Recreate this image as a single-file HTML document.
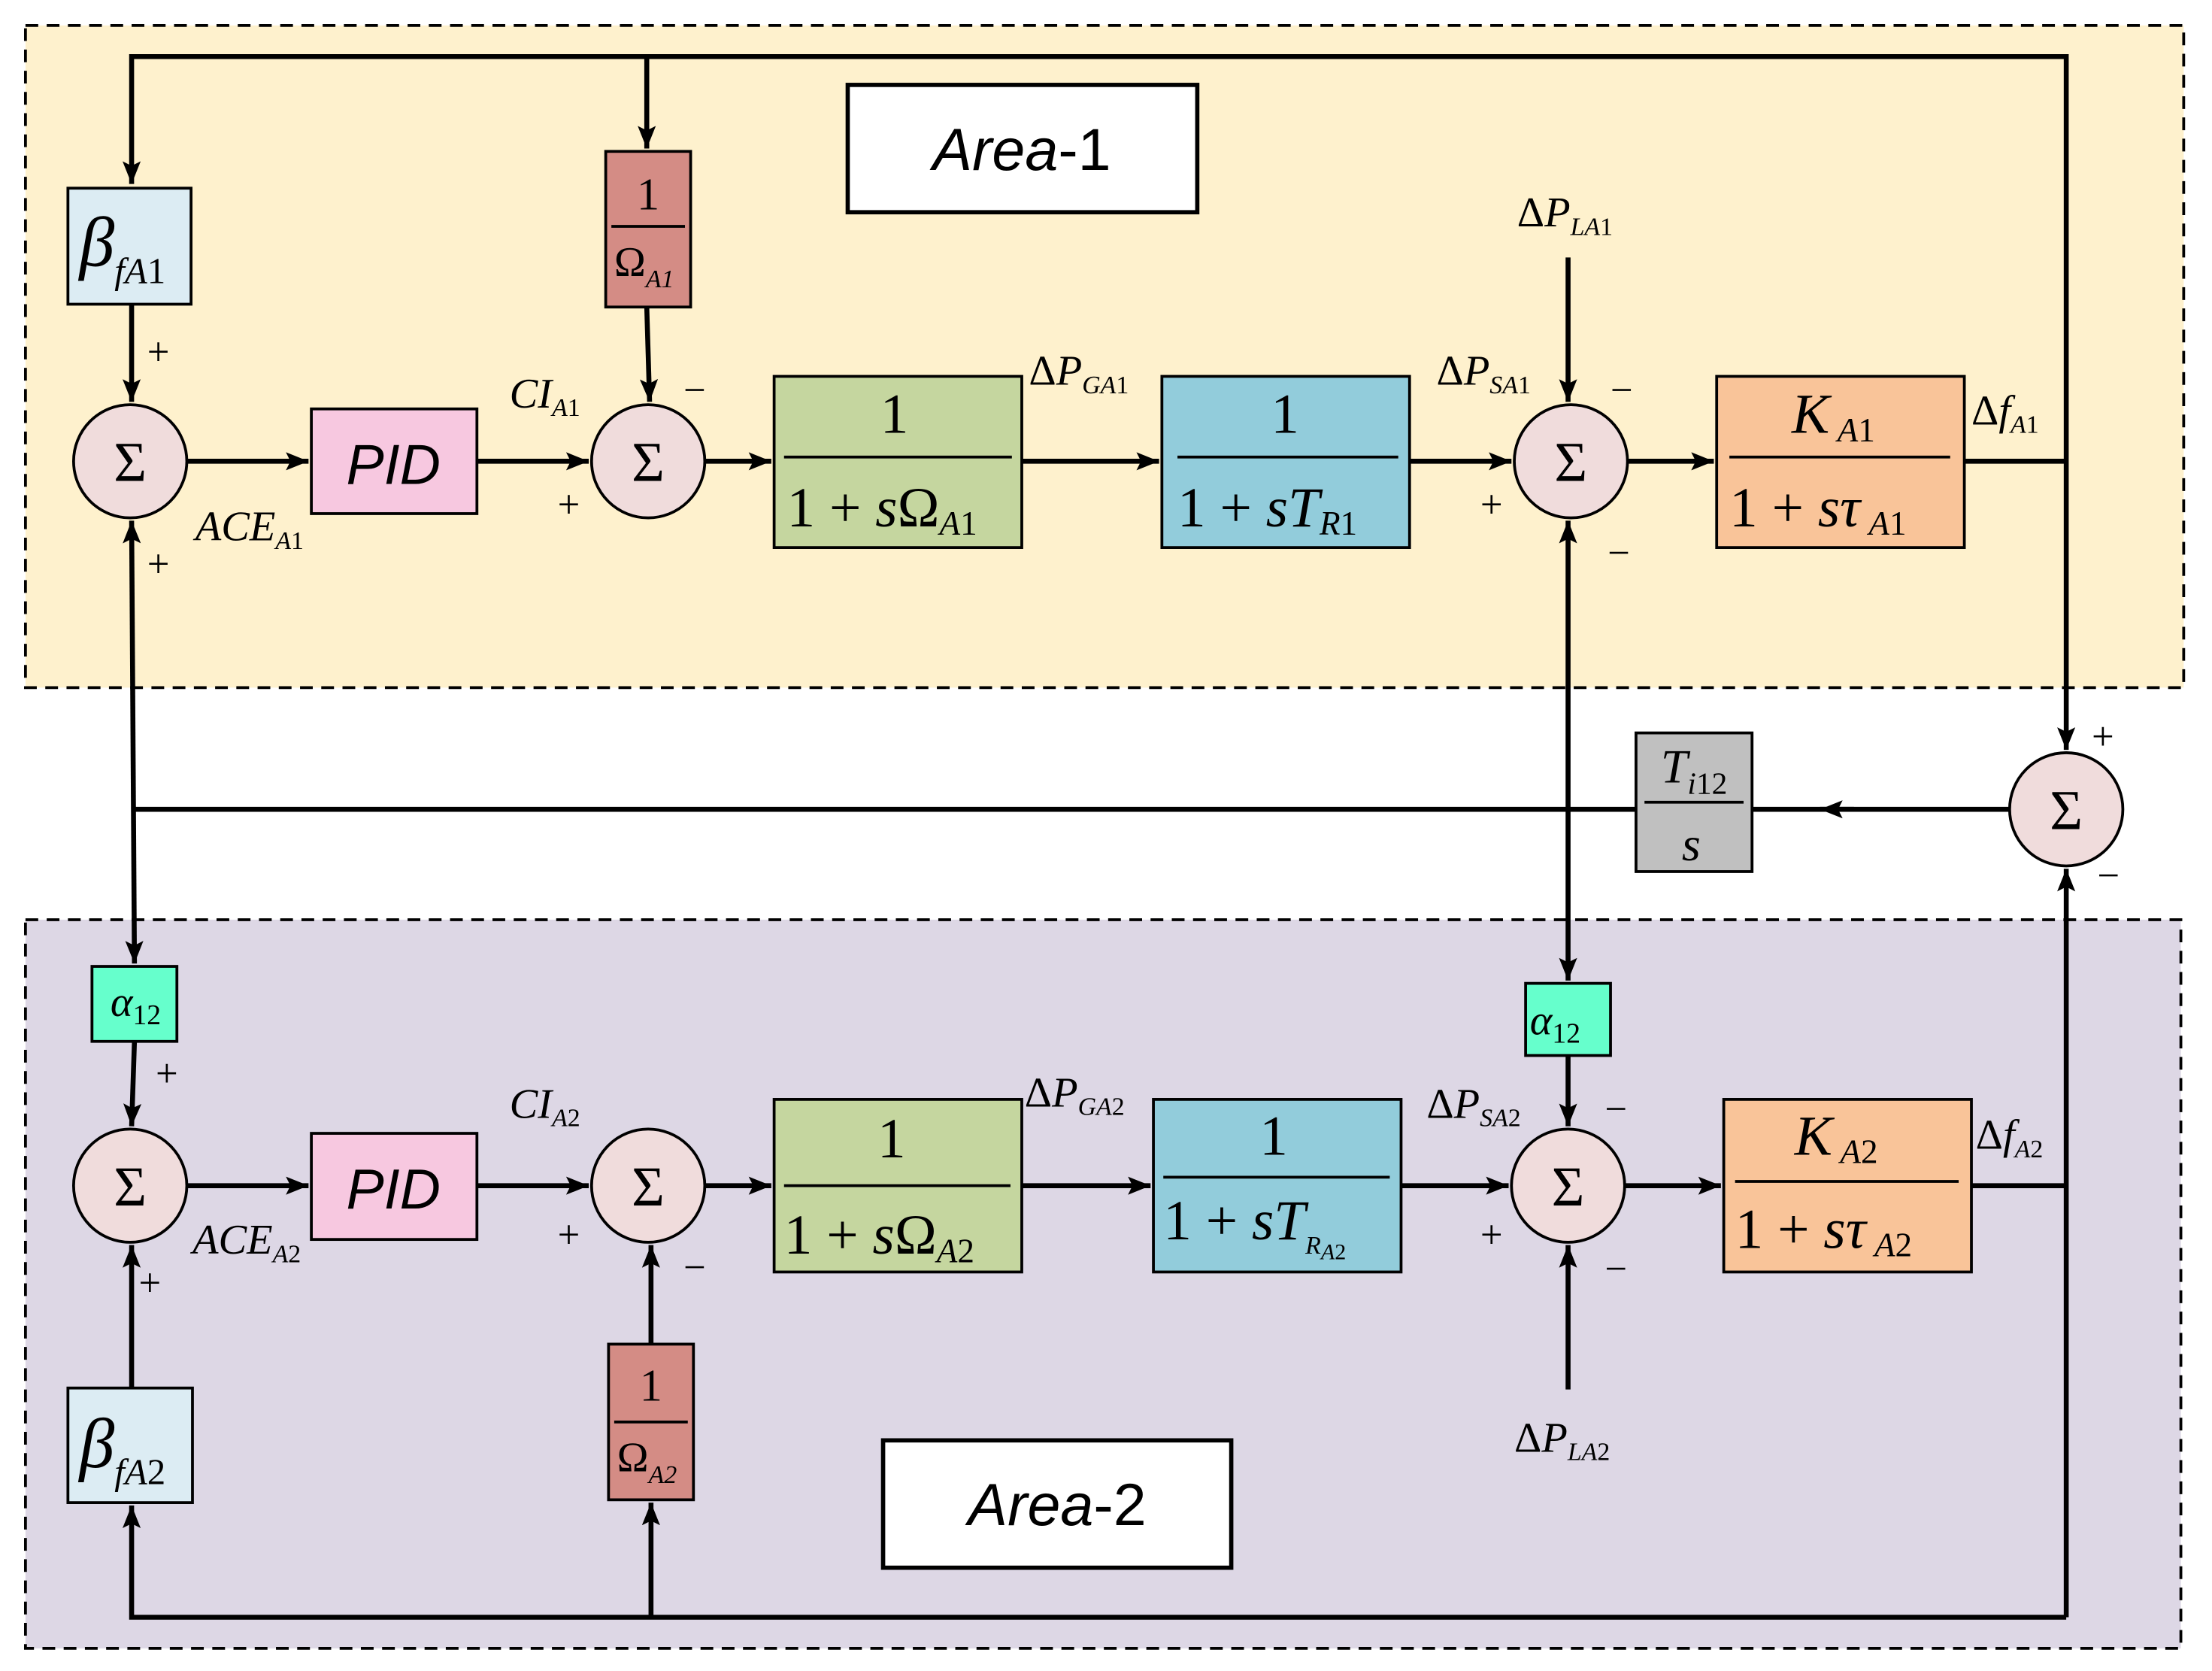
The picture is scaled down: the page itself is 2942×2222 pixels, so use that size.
<!DOCTYPE html>
<html><head><meta charset="utf-8"><style>
html,body{margin:0;padding:0;background:#fff}
svg{display:block}
text{font-family:"Liberation Serif",serif}
.s{font-family:"Liberation Sans",sans-serif}
</style></head><body>
<svg width="2942" height="2222" viewBox="0 0 1563 1181" preserveAspectRatio="none" xmlns="http://www.w3.org/2000/svg">
<defs>
<marker id="a" viewBox="0 0 10 10" refX="10" refY="5" markerWidth="7" markerHeight="7" orient="auto-start-reverse" markerUnits="userSpaceOnUse">
<path d="M0,0 L10,5 L0,10 L3,5 z" fill="#000"/></marker>
<marker id="b" viewBox="0 0 10 10" refX="10" refY="5" markerWidth="16" markerHeight="16" orient="auto-start-reverse" markerUnits="userSpaceOnUse">
<path d="M0,1 L10,5 L0,9 L2,5 z" fill="#000"/></marker>
</defs>
<rect x="18" y="18" width="1525" height="468" fill="#fef1cd" stroke="#000" stroke-width="2" stroke-dasharray="9,6"/>
<rect x="18" y="650" width="1523" height="515" fill="#ddd7e5" stroke="#000" stroke-width="2" stroke-dasharray="9,6"/>
<rect x="599" y="60" width="247" height="90" fill="#fff" stroke="#000" stroke-width="3"/>
<text x="722" y="120" class="s" font-size="42" text-anchor="middle"><tspan font-style="italic">Area</tspan>-1</text>
<rect x="624" y="1018" width="246" height="90" fill="#fff" stroke="#000" stroke-width="3"/>
<text x="747" y="1078" class="s" font-size="42" text-anchor="middle"><tspan font-style="italic">Area</tspan>-2</text>

<g stroke="#000" stroke-width="3.5" fill="none">
<!-- top feedback -->
<polyline points="93,130 93,40 1460,40 1460,530" marker-start="url(#b)" marker-end="url(#b)"/>
<line x1="457" y1="40" x2="457" y2="105" marker-end="url(#b)"/>
<line x1="457" y1="217" x2="459" y2="284" marker-end="url(#b)"/>
<line x1="93" y1="215" x2="93" y2="284" marker-end="url(#b)"/>
<line x1="132" y1="326" x2="218" y2="326" marker-end="url(#b)"/>
<line x1="337" y1="326" x2="416" y2="326" marker-end="url(#b)"/>
<line x1="498" y1="326" x2="545" y2="326" marker-end="url(#b)"/>
<line x1="722" y1="326" x2="819" y2="326" marker-end="url(#b)"/>
<line x1="996" y1="326" x2="1068" y2="326" marker-end="url(#b)"/>
<line x1="1150" y1="326" x2="1211" y2="326" marker-end="url(#b)"/>
<line x1="1388" y1="326" x2="1460" y2="326"/>
<line x1="1108" y1="182" x2="1108" y2="284" marker-end="url(#b)"/>
<line x1="1108" y1="368" x2="1108" y2="693" marker-start="url(#b)" marker-end="url(#b)"/>
<line x1="93" y1="368" x2="95" y2="681" marker-start="url(#b)" marker-end="url(#b)"/>
<line x1="93" y1="572" x2="1156" y2="572"/>
<line x1="1420" y1="572" x2="1238" y2="572"/>
<line x1="1310" y1="572" x2="1286" y2="572" marker-end="url(#b)"/>
<!-- area 2 -->
<line x1="95" y1="736" x2="93" y2="796" marker-end="url(#b)"/>
<line x1="132" y1="838" x2="218" y2="838" marker-end="url(#b)"/>
<line x1="337" y1="838" x2="416" y2="838" marker-end="url(#b)"/>
<line x1="498" y1="838" x2="545" y2="838" marker-end="url(#b)"/>
<line x1="722" y1="838" x2="813" y2="838" marker-end="url(#b)"/>
<line x1="990" y1="838" x2="1066" y2="838" marker-end="url(#b)"/>
<line x1="1148" y1="838" x2="1216" y2="838" marker-end="url(#b)"/>
<polyline points="1393,838 1460,838"/>
<line x1="1108" y1="746" x2="1108" y2="796" marker-end="url(#b)"/>
<line x1="1108" y1="982" x2="1108" y2="880" marker-end="url(#b)"/>
<polyline points="1460,1143 1460,614" marker-end="url(#b)"/>
<polyline points="93,1064 93,1143 1460,1143" marker-start="url(#b)"/>
<line x1="460" y1="1143" x2="460" y2="1062" marker-end="url(#b)"/>
<line x1="93" y1="981" x2="93" y2="880" marker-end="url(#b)"/>
<line x1="460" y1="950" x2="460" y2="880" marker-end="url(#b)"/>
</g>

<!-- sums -->
<g fill="#f0dcdc" stroke="#000" stroke-width="2">
<circle cx="92" cy="326" r="40"/><circle cx="458" cy="326" r="40"/><circle cx="1110" cy="326" r="40"/>
<circle cx="1460" cy="572" r="40"/>
<circle cx="92" cy="838" r="40"/><circle cx="458" cy="838" r="40"/><circle cx="1108" cy="838" r="40"/>
</g>
<g font-size="40" text-anchor="middle">
<text x="92" y="340">Σ</text><text x="458" y="340">Σ</text><text x="1110" y="340">Σ</text>
<text x="1460" y="586">Σ</text>
<text x="92" y="852">Σ</text><text x="458" y="852">Σ</text><text x="1108" y="852">Σ</text>
</g>

<!-- boxes -->
<g stroke="#000" stroke-width="2">
<rect x="48" y="133" width="87" height="82" fill="#dcecf3"/>
<rect x="428" y="107" width="60" height="110" fill="#d48c85"/>
<rect x="220" y="289" width="117" height="74" fill="#f7c8e0"/>
<rect x="547" y="266" width="175" height="121" fill="#c5d69f"/>
<rect x="821" y="266" width="175" height="121" fill="#92ccdb"/>
<rect x="1213" y="266" width="175" height="121" fill="#f9c499"/>
<rect x="1156" y="518" width="82" height="98" fill="#c0c0c0"/>
<rect x="65" y="683" width="60" height="53" fill="#66ffcc"/>
<rect x="1078" y="695" width="60" height="51" fill="#66ffcc"/>
<rect x="220" y="801" width="117" height="75" fill="#f7c8e0"/>
<rect x="547" y="777" width="175" height="122" fill="#c5d69f"/>
<rect x="815" y="777" width="175" height="122" fill="#92ccdb"/>
<rect x="1218" y="777" width="175" height="122" fill="#f9c499"/>
<rect x="48" y="981" width="88" height="81" fill="#dcecf3"/>
<rect x="430" y="950" width="60" height="110" fill="#d48c85"/>
</g>
<g stroke="#000" stroke-width="2">
<line x1="432" y1="160" x2="484" y2="160"/>
<line x1="554" y1="323" x2="715" y2="323"/>
<line x1="832" y1="323" x2="988" y2="323"/>
<line x1="1222" y1="323" x2="1378" y2="323"/>
<line x1="1162" y1="567" x2="1232" y2="567"/>
<line x1="554" y1="838" x2="714" y2="838"/>
<line x1="822" y1="832" x2="982" y2="832"/>
<line x1="1226" y1="835" x2="1384" y2="835"/>
<line x1="434" y1="1005" x2="486" y2="1005"/>
</g>

<!-- texts -->
<g font-size="38">
<text x="56" y="188" font-size="50" font-style="italic">β<tspan font-size="26" dy="12">fA</tspan><tspan font-size="26" font-style="normal">1</tspan></text>
<text x="56" y="1037" font-size="50" font-style="italic">β<tspan font-size="26" dy="12">fA</tspan><tspan font-size="26" font-style="normal">2</tspan></text>
<text x="458" y="148" text-anchor="middle" font-size="32">1</text>
<text x="434" y="195" font-size="30">Ω<tspan font-size="18" font-style="italic" dy="8">A1</tspan></text>
<text x="460" y="990" text-anchor="middle" font-size="32">1</text>
<text x="436" y="1040" font-size="30">Ω<tspan font-size="18" font-style="italic" dy="8">A2</tspan></text>
<text x="278" y="342" text-anchor="middle" class="s" font-style="italic" font-size="40">PID</text>
<text x="278" y="854" text-anchor="middle" class="s" font-style="italic" font-size="40">PID</text>
<text x="632" y="306" text-anchor="middle" font-size="40">1</text>
<text x="556" y="372" font-size="40">1 + <tspan font-style="italic">s</tspan>Ω<tspan font-size="24" font-style="italic" dy="6">A</tspan><tspan font-size="24">1</tspan></text>
<text x="908" y="306" text-anchor="middle" font-size="40">1</text>
<text x="832" y="372" font-size="40">1 + <tspan font-style="italic">sT</tspan><tspan font-size="24" font-style="italic" dy="6">R</tspan><tspan font-size="24">1</tspan></text>
<text x="1266" y="306" font-size="40" font-style="italic">K<tspan font-size="24" dy="6"> A</tspan><tspan font-size="24" font-style="normal">1</tspan></text>
<text x="1222" y="372" font-size="40">1 + <tspan font-style="italic">sτ</tspan><tspan font-size="24" font-style="italic" dy="6"> A</tspan><tspan font-size="24">1</tspan></text>
<text x="1197" y="553" text-anchor="middle" font-size="34" font-style="italic">T<tspan font-size="22" dy="8">i</tspan><tspan font-size="22" font-style="normal">12</tspan></text>
<text x="1195" y="608" text-anchor="middle" font-size="34" font-style="italic">s</text>
<text x="78" y="718" font-size="30" font-style="italic">α<tspan font-size="20" font-style="normal" dy="6">12</tspan></text>
<text x="1081" y="731" font-size="30" font-style="italic">α<tspan font-size="20" font-style="normal" dy="6">12</tspan></text>
<text x="630" y="818" text-anchor="middle" font-size="40">1</text>
<text x="554" y="886" font-size="40">1 + <tspan font-style="italic">s</tspan>Ω<tspan font-size="24" font-style="italic" dy="6">A</tspan><tspan font-size="24">2</tspan></text>
<text x="900" y="816" text-anchor="middle" font-size="40">1</text>
<text x="822" y="876" font-size="40">1 + <tspan font-style="italic">sT</tspan><tspan font-size="18" font-style="italic" dy="10">R</tspan><tspan font-size="16" font-style="italic" dy="4">A</tspan><tspan font-size="16">2</tspan></text>
<text x="1268" y="816" font-size="40" font-style="italic">K<tspan font-size="24" dy="6"> A</tspan><tspan font-size="24" font-style="normal">2</tspan></text>
<text x="1226" y="882" font-size="40">1 + <tspan font-style="italic">sτ</tspan><tspan font-size="24" font-style="italic" dy="6"> A</tspan><tspan font-size="24">2</tspan></text>
</g>
<g font-size="28">
<text x="104" y="258">+</text><text x="104" y="408">+</text>
<text x="483" y="285">−</text><text x="394" y="366">+</text>
<text x="1138" y="285">−</text><text x="1046" y="366">+</text><text x="1136" y="400">−</text>
<text x="1478" y="530">+</text><text x="1482" y="628">−</text>
<text x="110" y="768">+</text><text x="98" y="916">+</text>
<text x="483" y="905">−</text><text x="394" y="882">+</text>
<text x="1134" y="793">−</text><text x="1046" y="882">+</text><text x="1134" y="906">−</text>
</g>
<g font-size="30">
<text x="360" y="288" font-style="italic">CI<tspan font-size="18" dy="6">A</tspan><tspan font-size="18" font-style="normal">1</tspan></text>
<text x="138" y="382" font-style="italic">ACE<tspan font-size="18" dy="6">A</tspan><tspan font-size="18" font-style="normal">1</tspan></text>
<text x="727" y="272">Δ<tspan font-style="italic">P</tspan><tspan font-size="18" font-style="italic" dy="6">GA</tspan><tspan font-size="18">1</tspan></text>
<text x="1015" y="272">Δ<tspan font-style="italic">P</tspan><tspan font-size="18" font-style="italic" dy="6">SA</tspan><tspan font-size="18">1</tspan></text>
<text x="1072" y="160">Δ<tspan font-style="italic">P</tspan><tspan font-size="18" font-style="italic" dy="6">LA</tspan><tspan font-size="18">1</tspan></text>
<text x="1393" y="300">Δ<tspan font-style="italic">f</tspan><tspan font-size="18" font-style="italic" dy="6">A</tspan><tspan font-size="18">1</tspan></text>
<text x="360" y="790" font-style="italic">CI<tspan font-size="18" dy="6">A</tspan><tspan font-size="18" font-style="normal">2</tspan></text>
<text x="136" y="886" font-style="italic">ACE<tspan font-size="18" dy="6">A</tspan><tspan font-size="18" font-style="normal">2</tspan></text>
<text x="724" y="782">Δ<tspan font-style="italic">P</tspan><tspan font-size="18" font-style="italic" dy="6">GA</tspan><tspan font-size="18">2</tspan></text>
<text x="1008" y="790">Δ<tspan font-style="italic">P</tspan><tspan font-size="18" font-style="italic" dy="6">SA</tspan><tspan font-size="18">2</tspan></text>
<text x="1070" y="1026">Δ<tspan font-style="italic">P</tspan><tspan font-size="18" font-style="italic" dy="6">LA</tspan><tspan font-size="18">2</tspan></text>
<text x="1396" y="812">Δ<tspan font-style="italic">f</tspan><tspan font-size="18" font-style="italic" dy="6">A</tspan><tspan font-size="18">2</tspan></text>
</g>
</svg>
</body></html>
